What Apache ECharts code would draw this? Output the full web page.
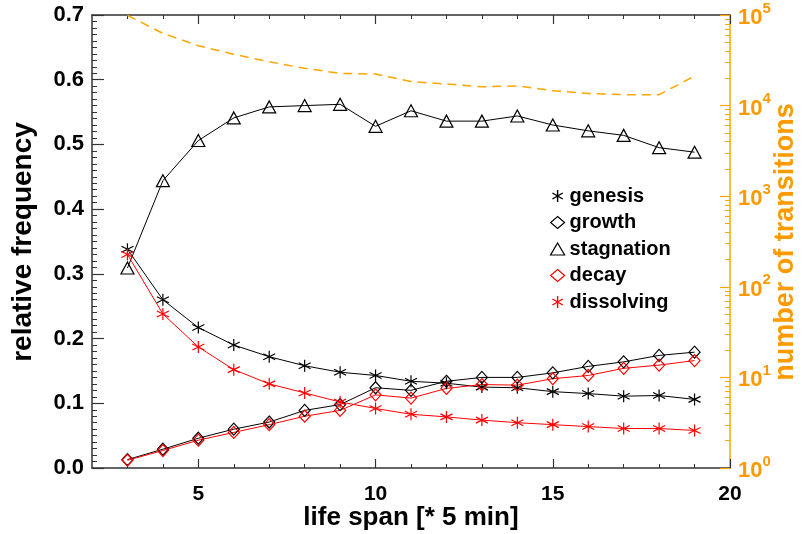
<!DOCTYPE html>
<html><head><meta charset="utf-8">
<script src="https://cdn.jsdelivr.net/npm/echarts@6/dist/echarts.min.js"></script>
<style>html,body{margin:0;padding:0;background:#fff}#c{width:803px;height:534px}</style>
</head><body><div id="c"></div>
<script>
// ---- data ----
const lifeSpan    = [3,4,5,6,7,8,9,10,11,12,13,14,15,16,17,18,19];
const genesis     = [0.338,0.260,0.217,0.190,0.172,0.158,0.148,0.143,0.134,0.131,0.125,0.124,0.118,0.115,0.111,0.112,0.106];
const growth      = [0.013,0.029,0.046,0.060,0.071,0.089,0.098,0.124,0.120,0.134,0.140,0.140,0.147,0.157,0.164,0.174,0.179];
const stagnation  = [0.309,0.444,0.506,0.541,0.558,0.560,0.562,0.528,0.552,0.536,0.536,0.544,0.530,0.521,0.514,0.495,0.488];
const decay       = [0.012,0.027,0.043,0.055,0.067,0.080,0.089,0.113,0.108,0.123,0.129,0.128,0.138,0.143,0.154,0.159,0.166];
const dissolving  = [0.330,0.238,0.187,0.152,0.130,0.116,0.102,0.092,0.083,0.079,0.074,0.070,0.067,0.064,0.061,0.061,0.058];
const transitions = [99000,62700,45800,36800,30500,25800,22700,22300,18400,17300,16100,16500,14600,13600,13200,13200,21200];

const xMajorTicks = [5,10,15,20];
const xMinorTicks = [3,4,6,7,8,9,11,12,13,14,16,17,18,19];
const logDecades  = [1,10,100,1000,10000,100000];
const logMinor = [];
logDecades.slice(0,-1).forEach(d => { for (let k = 2; k <= 9; k++) logMinor.push(d * k); });

const seriesNames = ['genesis','growth','stagnation','decay','dissolving'];
const xTitle = 'life span [* 5 min]';
const yTitle = 'relative frequency';
const y2Title = 'number of transitions';

// ---- style ----
const FONT = '"Liberation Sans", Arial, Helvetica, sans-serif';
const AX = '#333';
const ORANGE = '#FFA500';
const ORANGE_TXT = '#FF9900';
const STAR = 'path://M0,-10L0,10M-8.66,-5L8.66,5M-8.66,5L8.66,-5';

const pts = arr => lifeSpan.map((x, i) => [x, arr[i]]);

function relSeries(name, data, symbol, size, col) {
  return {
    type: 'line', name, data: pts(data), xAxisIndex: 0, yAxisIndex: 0,
    symbol, symbolSize: size, showAllSymbol: true,
    lineStyle: { color: col, width: 1 },
    itemStyle: { color: 'rgba(0,0,0,0)', borderColor: col, borderWidth: 1.2 },
    emphasis: { disabled: true }, z: 3
  };
}

const chart = echarts.init(document.getElementById('c'), null, { renderer: 'canvas' });
const axBase = { type: 'value', min: 2, max: 20, splitLine: { show: false } };
chart.setOption({
  animation: false,
  grid: { left: 92, right: 73, top: 15, bottom: 66, containLabel: false },
  xAxis: [
    Object.assign({}, axBase, { position: 'bottom',
      axisLine: { show: true, lineStyle: { color: AX, width: 1.5 } },
      axisTick: { show: true, inside: true, length: 9, customValues: xMajorTicks, lineStyle: { color: AX, width: 1.2 } },
      axisLabel: { customValues: xMajorTicks, fontSize: 21, fontWeight: 'bold', color: '#000', fontFamily: FONT, margin: 16 } }),
    Object.assign({}, axBase, { position: 'bottom',
      axisLine: { show: false },
      axisTick: { show: true, inside: true, length: 4, customValues: xMinorTicks, lineStyle: { color: AX, width: 1 } },
      axisLabel: { show: false } }),
    Object.assign({}, axBase, { position: 'top',
      axisLine: { show: true, lineStyle: { color: AX, width: 1.5 } },
      axisTick: { show: true, inside: true, length: 9, customValues: xMajorTicks, lineStyle: { color: AX, width: 1.2 } },
      axisLabel: { show: false } }),
    Object.assign({}, axBase, { position: 'top',
      axisLine: { show: false },
      axisTick: { show: true, inside: true, length: 4, customValues: xMinorTicks, lineStyle: { color: AX, width: 1 } },
      axisLabel: { show: false } })
  ],
  yAxis: [
    { type: 'value', position: 'left', min: 0, max: 0.7, interval: 0.1,
      axisLine: { show: true, lineStyle: { color: AX, width: 1.5 } },
      axisTick: { show: true, inside: true, length: 12, lineStyle: { color: AX, width: 1.2 } },
      minorTick: { show: true, splitNumber: 10, length: 5, lineStyle: { color: AX, width: 1 } },
      axisLabel: { formatter: v => v.toFixed(1), fontSize: 22, fontWeight: 'bold', color: '#000', fontFamily: FONT, margin: 8 },
      splitLine: { show: false }, minorSplitLine: { show: false } },
    { type: 'log', logBase: 10, position: 'right', min: 1, max: 100000,
      axisLine: { show: true, lineStyle: { color: ORANGE, width: 1.5 } },
      axisTick: { show: true, inside: true, length: 10, customValues: logDecades, lineStyle: { color: ORANGE, width: 1.2 } },
      axisLabel: { customValues: logDecades, margin: 8,
        formatter: v => '{b|10}{s|' + Math.round(Math.log10(v)) + '}',
        rich: {
          b: { fontSize: 22, fontWeight: 'bold', color: ORANGE_TXT, fontFamily: FONT, lineHeight: 28, verticalAlign: 'bottom' },
          s: { fontSize: 15, fontWeight: 'bold', color: ORANGE_TXT, fontFamily: FONT, lineHeight: 15, verticalAlign: 'top' }
        } },
      splitLine: { show: false } },
    { type: 'log', logBase: 10, position: 'right', min: 1, max: 100000,
      axisLine: { show: false },
      axisTick: { show: true, inside: true, length: 5, customValues: logMinor, lineStyle: { color: ORANGE, width: 1 } },
      axisLabel: { show: false }, splitLine: { show: false } }
  ],
  legend: {
    orient: 'vertical', left: 545, top: 181, itemWidth: 14, itemHeight: 12, itemGap: 6.5,
    selectedMode: false,
    textStyle: { fontSize: 20, fontWeight: 'bold', color: '#000', fontFamily: FONT },
    data: [
      { name: seriesNames[0], icon: STAR, itemStyle: { color: 'rgba(0,0,0,0)', borderColor: '#000', borderWidth: 1.4 } },
      { name: seriesNames[1], icon: 'diamond', itemStyle: { color: 'rgba(0,0,0,0)', borderColor: '#000', borderWidth: 1.2 } },
      { name: seriesNames[2], icon: 'triangle', itemStyle: { color: 'rgba(0,0,0,0)', borderColor: '#000', borderWidth: 1.2 } },
      { name: seriesNames[3], icon: 'diamond', itemStyle: { color: 'rgba(0,0,0,0)', borderColor: '#f00', borderWidth: 1.2 } },
      { name: seriesNames[4], icon: STAR, itemStyle: { color: 'rgba(0,0,0,0)', borderColor: '#f00', borderWidth: 1.4 } }
    ]
  },
  graphic: [
    { type: 'text', x: 23, y: 242, rotation: Math.PI / 2,
      style: { text: yTitle, align: 'center', verticalAlign: 'middle', fontSize: 28, fontWeight: 'bold', fontFamily: FONT, fill: '#000' } },
    { type: 'text', x: 786, y: 242, rotation: Math.PI / 2,
      style: { text: y2Title, align: 'center', verticalAlign: 'middle', fontSize: 27, fontWeight: 'bold', fontFamily: FONT, fill: ORANGE_TXT } },
    { type: 'text', x: 411, y: 518,
      style: { text: xTitle, align: 'center', verticalAlign: 'middle', fontSize: 26, fontWeight: 'bold', fontFamily: FONT, fill: '#000' } }
  ],
  series: [
    { type: 'line', name: 'transitions', data: pts(transitions), xAxisIndex: 0, yAxisIndex: 1,
      symbol: 'none', lineStyle: { color: ORANGE, width: 1.5, type: [9, 6] }, emphasis: { disabled: true }, z: 2 },
    relSeries(seriesNames[0], genesis, STAR, 12, '#000'),
    relSeries(seriesNames[1], growth, 'diamond', [11, 12], '#000'),
    relSeries(seriesNames[2], stagnation, 'triangle', [13, 12], '#000'),
    relSeries(seriesNames[3], decay, 'diamond', [11, 12], '#f00'),
    relSeries(seriesNames[4], dissolving, STAR, 12, '#f00')
  ]
});
</script>
</body></html>
